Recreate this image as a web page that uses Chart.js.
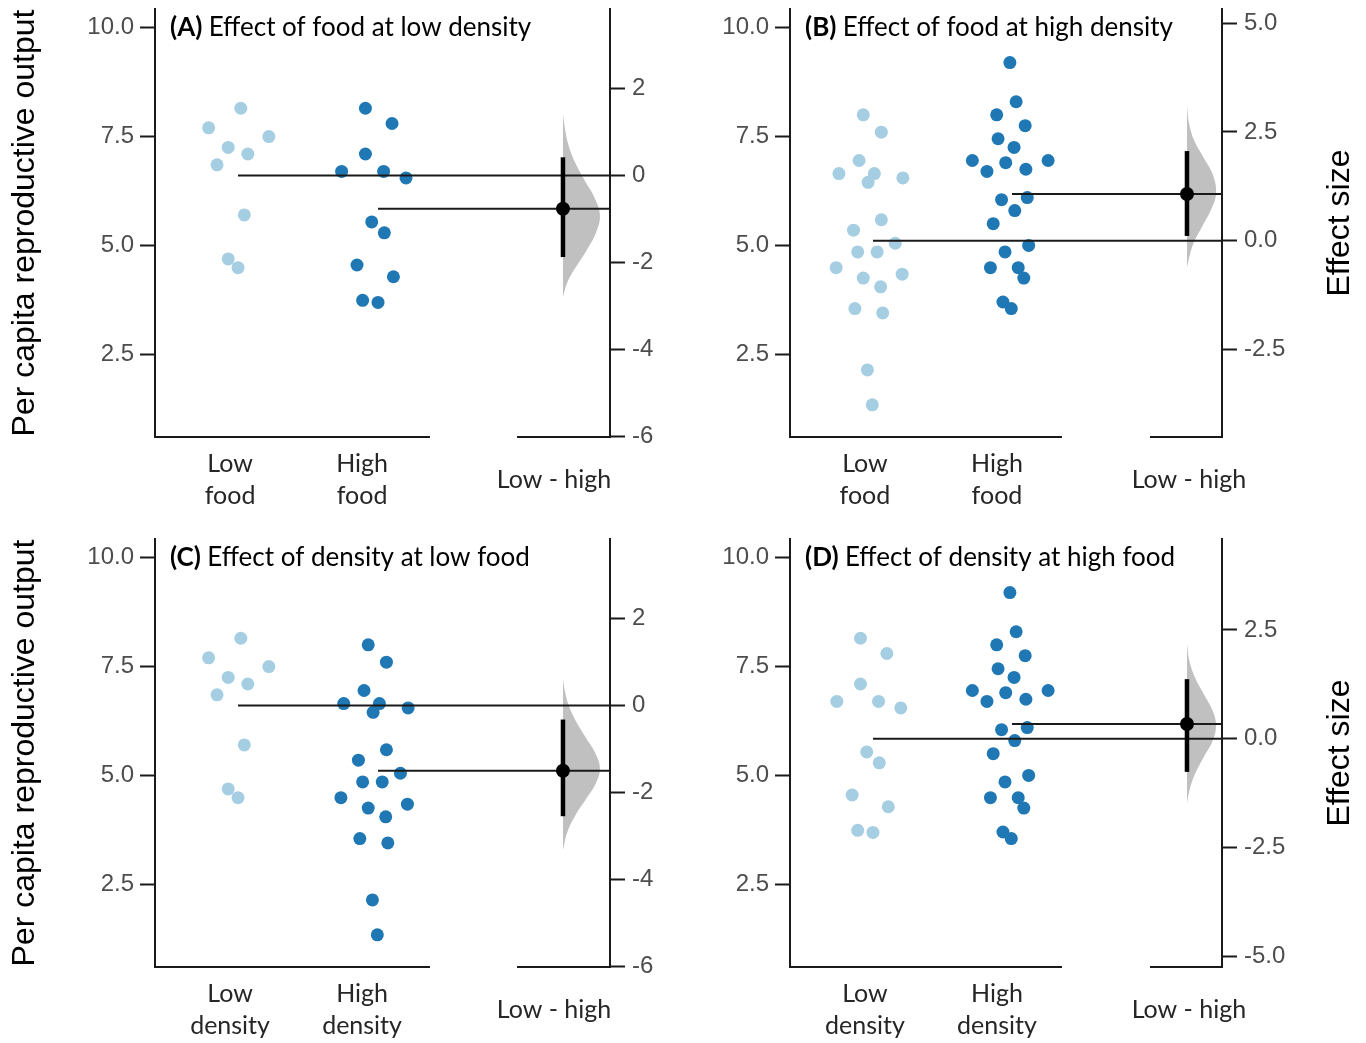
<!DOCTYPE html>
<html>
<head>
<meta charset="utf-8">
<title>Per capita reproductive output - estimation plots</title>
<script src="https://cdn.jsdelivr.net/npm/chart.js@4.4.1/dist/chart.umd.min.js"></script>
<style>
  body { margin: 0; background: #fff; }
  #figure { position: relative; width: 1366px; height: 1043px; background: #fff; }
  #figure canvas { position: absolute; }
</style>
</head>
<body>
<div id="figure">
  <canvas id="panelA" width="683" height="513" style="left:0;top:0"></canvas>
  <canvas id="panelB" width="683" height="513" style="left:683px;top:0"></canvas>
  <canvas id="panelC" width="683" height="513" style="left:0;top:530px"></canvas>
  <canvas id="panelD" width="683" height="513" style="left:683px;top:530px"></canvas>
</div>
<script>
// per capita reproductive output (jitter = horizontal offset within a group)
const lowFoodLowDensity = [8.15, 7.70, 7.50, 7.25, 7.10, 6.85, 5.70, 4.69, 4.49];
const lowFoodLowDensityJitter = [0.02, -0.21, 0.22, -0.07, 0.07, -0.15, 0.045, -0.07, 0.0];

const highFoodLowDensity = [8.15, 7.80, 7.10, 6.70, 6.70, 6.55, 5.54, 5.29, 4.55, 4.28, 3.74, 3.69];
const highFoodLowDensityJitter = [-0.09, 0.10, -0.09, -0.26, 0.04, 0.20, -0.045, 0.045, -0.15, 0.11, -0.11, 0.0];

const lowFoodHighDensity = [8.00, 7.60, 6.95, 6.65, 6.65, 6.45, 6.55, 5.59, 5.35, 5.05,
                            4.85, 4.85, 4.49, 4.34, 4.25, 4.05, 3.55, 3.45, 2.14, 1.34];
const lowFoodHighDensityJitter = [-0.07, 0.06, -0.10, -0.245, 0.01, -0.035, 0.215, 0.06, -0.14, 0.16,
                                  -0.11, 0.03, -0.265, 0.21, -0.07, 0.055, -0.13, 0.07, -0.04, -0.005];

const highFoodHighDensity = [9.20, 8.30, 8.00, 7.75, 7.45, 7.25, 6.95, 6.90, 6.95, 6.70, 6.75,
                             6.05, 6.10, 5.80, 5.50, 5.00, 4.85, 4.49, 4.49, 4.25, 3.70, 3.55];
const highFoodHighDensityJitter = [-0.015, 0.03, -0.11, 0.095, -0.10, 0.015, -0.285, -0.045, 0.26, -0.18, 0.10,
                                   -0.075, 0.11, 0.02, -0.135, 0.12, -0.05, -0.155, 0.045, 0.085, -0.065, -0.005];

// bootstrap 95% CI of the mean difference, per panel
const ciA = [-1.87, 0.42];
const ciB = [0.11, 2.06];
const ciC = [-2.54, -0.32];
const ciD = [-0.76, 1.37];

// bootstrap distribution outline (effect value, relative density)
const densEffectA = [1.42, 1.1, 0.7, 0.3, -0.1, -0.5, -0.9, -1.3, -1.7, -2.1, -2.45, -2.79];
const densA = [0, 0.05, 0.15, 0.33, 0.58, 0.85, 1.0, 0.9, 0.65, 0.35, 0.12, 0];
const densEffectB = [3.1, 2.7, 2.3, 1.9, 1.5, 1.08, 0.7, 0.3, -0.1, -0.61];
const densB = [0, 0.07, 0.25, 0.58, 0.9, 1.0, 0.82, 0.5, 0.2, 0];
const densEffectC = [0.61, 0.3, -0.05, -0.4, -0.75, -1.1, -1.45, -1.8, -2.15, -2.5, -2.9, -3.32];
const densC = [0, 0.06, 0.18, 0.38, 0.63, 0.88, 1.0, 0.88, 0.62, 0.35, 0.12, 0];
const densEffectD = [2.18, 1.8, 1.4, 1.0, 0.65, 0.31, -0.05, -0.45, -0.85, -1.2, -1.48];
const densD = [0, 0.08, 0.28, 0.6, 0.88, 1.0, 0.88, 0.55, 0.25, 0.08, 0];

const panelTags = ['(A)', '(B)', '(C)', '(D)'];
const panelTitles = ['Effect of food at low density', 'Effect of food at high density',
                     'Effect of density at low food', 'Effect of density at high food'];
const foodLabels = [['Low', 'food'], ['High', 'food'], 'Low - high'];
const densityLabels = [['Low', 'density'], ['High', 'density'], 'Low - high'];

const Y_MIN = 0.6, Y_MAX = 10.43;
const LIGHT = '#a6cee3', DARK = '#1f78b4', INK = '#1a1a1a';
const LABEL_FONT = 'Lato, "Open Sans", sans-serif';
const TICK_FONT = '"Liberation Sans", Arial, sans-serif';

// x positions: group 0 and 1, difference column further right
const layoutWide = { xMin: -0.593, xMax: 2.657, diffX: 2.321, gap: [1.371, 1.993],
                     labelX: [-0.057, 0.886, 2.257], densWidth: 0.264, leftW: 155, rightW: 73 };
const layoutNarrow = { xMin: -0.597, xMax: 2.511, diffX: 2.259, gap: [1.36, 1.993],
                       labelX: [-0.058, 0.892, 2.273], densWidth: 0.209, leftW: 107, rightW: 144 };

const mean = arr => arr.reduce((a, b) => a + b, 0) / arr.length;

const panelDecor = {
    id: 'panelDecor',
    afterDraw(chart, args, opts) {
        const { ctx, chartArea } = chart;
        const x = chart.scales.x;
        ctx.save();
        // bottom axis, broken between the raw data and the difference column
        ctx.strokeStyle = INK;
        ctx.lineWidth = 2;
        ctx.beginPath();
        ctx.moveTo(chartArea.left - 1, chartArea.bottom);
        ctx.lineTo(x.getPixelForValue(opts.gap[0]), chartArea.bottom);
        ctx.moveTo(x.getPixelForValue(opts.gap[1]), chartArea.bottom);
        ctx.lineTo(chartArea.right + 1, chartArea.bottom);
        ctx.stroke();

        // panel title
        ctx.fillStyle = '#000';
        ctx.textBaseline = 'middle';
        ctx.font = 'bold 26px ' + LABEL_FONT;
        const tx = chartArea.left + 15, ty = chartArea.top + 19;
        ctx.fillText(opts.tag, tx, ty);
        const tagW = ctx.measureText(opts.tag + ' ').width;
        ctx.font = '26px ' + LABEL_FONT;
        ctx.fillText(opts.title, tx + tagW, ty);

        if (opts.effectTitle) {
            ctx.font = '32px ' + TICK_FONT;
            ctx.textAlign = 'center';
            ctx.translate(chartArea.right + 118, (chartArea.top + chartArea.bottom) / 2);
            ctx.rotate(-Math.PI / 2);
            ctx.fillText('Effect size', 0, 0);
        }
        ctx.restore();
    }
};

function buildPanel(canvasId, cfg) {
    const L = cfg.layout;
    const lowMean = mean(cfg.low);
    const highMean = mean(cfg.high);
    const effect = highMean - lowMean;

    const datasets = [
        {
            type: 'scatter', yAxisID: 'y2',
            data: [{ x: L.diffX, y: effect }],
            backgroundColor: '#000', pointRadius: 7, borderWidth: 0
        },
        {
            type: 'line', yAxisID: 'y2',
            data: [{ x: L.diffX, y: cfg.ci[0] }, { x: L.diffX, y: cfg.ci[1] }],
            borderColor: '#000', borderWidth: 4.5, pointRadius: 0
        },
        {
            type: 'line', yAxisID: 'y',
            data: [{ x: 0, y: lowMean }, { x: L.xMax, y: lowMean }],
            borderColor: INK, borderWidth: 2, pointRadius: 0
        },
        {
            type: 'line', yAxisID: 'y',
            data: [{ x: 1, y: highMean }, { x: L.xMax, y: highMean }],
            borderColor: INK, borderWidth: 2, pointRadius: 0
        },
        {
            type: 'scatter', yAxisID: 'y',
            data: cfg.high.map((v, i) => ({ x: 1 + cfg.highJitter[i], y: v })),
            backgroundColor: DARK, pointRadius: 6.5, borderWidth: 0
        },
        {
            type: 'scatter', yAxisID: 'y',
            data: cfg.low.map((v, i) => ({ x: cfg.lowJitter[i], y: v })),
            backgroundColor: LIGHT, pointRadius: 6.5, borderWidth: 0
        },
        {
            type: 'line', yAxisID: 'y2',
            data: cfg.densEffect.map((e, i) => ({ x: L.diffX + cfg.dens[i] * L.densWidth, y: e })),
            backgroundColor: '#c0c0c0', borderWidth: 0, pointRadius: 0,
            tension: 0.4, fill: 'shape'
        }
    ];

    const axisTicks = {
        color: '#4d4d4d',
        font: { family: TICK_FONT, size: 24 }
    };

    new Chart(document.getElementById(canvasId), {
        type: 'scatter',
        data: { datasets },
        options: {
            responsive: false,
            animation: false,
            events: [],
            layout: { padding: { top: 9, left: 0, right: 0, bottom: 0 } },
            plugins: {
                legend: { display: false },
                tooltip: { enabled: false },
                panelDecor: {
                    tag: cfg.tag, title: cfg.title, gap: L.gap, effectTitle: cfg.effectTitle
                }
            },
            scales: {
                x: {
                    type: 'linear',
                    min: L.xMin,
                    max: L.xMax,
                    grid: { display: false, drawTicks: false },
                    border: { display: false },
                    afterBuildTicks: s => { s.ticks = L.labelX.map(v => ({ value: v })); },
                    ticks: {
                        autoSkip: false,
                        maxRotation: 0,
                        padding: 27,
                        crossAlign: 'center',
                        color: '#262626',
                        font: { family: LABEL_FONT, size: 25, lineHeight: 1.28 },
                        callback: (v, i) => cfg.labels[i]
                    },
                    afterFit: s => { s.height = 76; s.paddingLeft = 0; s.paddingRight = 0; }
                },
                y: {
                    position: 'left',
                    min: Y_MIN,
                    max: Y_MAX,
                    grid: { drawOnChartArea: false, tickLength: 15, tickWidth: 2, tickColor: INK },
                    border: { color: INK, width: 2 },
                    ticks: {
                        ...axisTicks, stepSize: 2.5, includeBounds: false, padding: 6,
                        callback: v => v.toFixed(1)
                    },
                    title: {
                        display: cfg.yTitle,
                        text: 'Per capita reproductive output',
                        color: '#000',
                        font: { family: TICK_FONT, size: 32 },
                        padding: { top: 6, bottom: 0 }
                    },
                    afterFit: s => { s.width = L.leftW; s.paddingTop = 0; s.paddingBottom = 0; }
                },
                y2: {
                    position: 'right',
                    min: Y_MIN - lowMean,
                    max: Y_MAX - lowMean,
                    grid: { drawOnChartArea: false, tickLength: 15, tickWidth: 2, tickColor: INK },
                    border: { color: INK, width: 2 },
                    ticks: {
                        ...axisTicks, stepSize: cfg.effectStep, includeBounds: false, padding: 7,
                        callback: v => v.toFixed(cfg.effectDigits)
                    },
                    afterFit: s => { s.width = L.rightW; s.paddingTop = 0; s.paddingBottom = 0; }
                }
            }
        },
        plugins: [panelDecor]
    });
}

buildPanel('panelA', {
    tag: panelTags[0], title: panelTitles[0], labels: foodLabels,
    low: lowFoodLowDensity, lowJitter: lowFoodLowDensityJitter,
    high: highFoodLowDensity, highJitter: highFoodLowDensityJitter,
    ci: ciA, densEffect: densEffectA, dens: densA,
    layout: layoutWide, effectStep: 2, effectDigits: 0, yTitle: true, effectTitle: false
});
buildPanel('panelB', {
    tag: panelTags[1], title: panelTitles[1], labels: foodLabels,
    low: lowFoodHighDensity, lowJitter: lowFoodHighDensityJitter,
    high: highFoodHighDensity, highJitter: highFoodHighDensityJitter,
    ci: ciB, densEffect: densEffectB, dens: densB,
    layout: layoutNarrow, effectStep: 2.5, effectDigits: 1, yTitle: false, effectTitle: true
});
buildPanel('panelC', {
    tag: panelTags[2], title: panelTitles[2], labels: densityLabels,
    low: lowFoodLowDensity, lowJitter: lowFoodLowDensityJitter,
    high: lowFoodHighDensity, highJitter: lowFoodHighDensityJitter,
    ci: ciC, densEffect: densEffectC, dens: densC,
    layout: layoutWide, effectStep: 2, effectDigits: 0, yTitle: true, effectTitle: false
});
buildPanel('panelD', {
    tag: panelTags[3], title: panelTitles[3], labels: densityLabels,
    low: highFoodLowDensity, lowJitter: highFoodLowDensityJitter,
    high: highFoodHighDensity, highJitter: highFoodHighDensityJitter,
    ci: ciD, densEffect: densEffectD, dens: densD,
    layout: layoutNarrow, effectStep: 2.5, effectDigits: 1, yTitle: false, effectTitle: true
});
</script>
</body>
</html>
